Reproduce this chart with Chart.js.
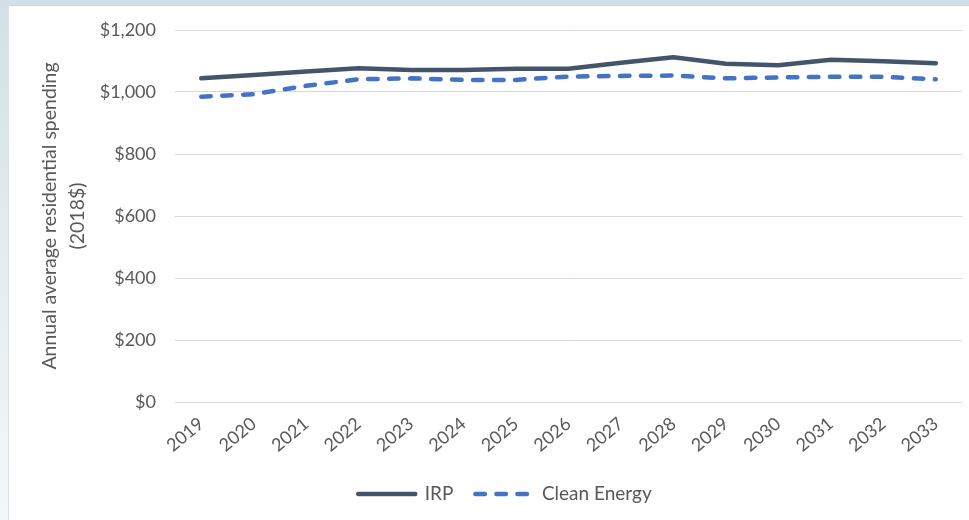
<!DOCTYPE html>
<html>
<head>
<meta charset="utf-8">
<script src="https://cdn.jsdelivr.net/npm/chart.js@4/dist/chart.umd.min.js"></script>
<style>
  html, body { margin: 0; padding: 0; width: 969px; height: 520px; overflow: hidden; }
  body { background: linear-gradient(to bottom, #d2e0e5 0%, #e4edf0 50%, #f4f7f8 100%); position: relative; }
  #card { position: absolute; left: 8px; top: 5px; width: 980px; height: 540px; background: #ffffff;
          border-top: 1px solid #cdd5d8; border-left: 1px solid #dde4e6; }
  #c { position: absolute; left: 0; top: 0; }
</style>
</head>
<body>
<div id="card"></div>
<canvas id="c" width="969" height="520"></canvas>
<script>
const years = ['2019','2020','2021','2022','2023','2024','2025','2026','2027','2028','2029','2030','2031','2032','2033'];
const irp = [1044, 1055, 1066, 1077, 1071, 1071, 1075, 1075, 1094, 1112, 1091, 1086, 1104, 1099, 1093];
const cleanEnergy = [985, 993, 1020, 1041, 1044, 1039, 1039, 1050, 1052, 1053, 1044, 1047, 1049, 1049, 1041];
const yTitle = ['Annual average residential spending', '(2018$)'];

const FONT = 'Lato, "Open Sans", sans-serif';
const GREY = '#595959';

new Chart(document.getElementById('c'), {
  type: 'line',
  data: {
    labels: years,
    datasets: [
      { label: 'IRP', data: irp, borderColor: '#44546a', backgroundColor: '#44546a',
        borderWidth: 4.5, borderCapStyle: 'round', borderJoinStyle: 'round',
        pointRadius: 0, tension: 0, fill: false },
      { label: 'Clean Energy', data: cleanEnergy, borderColor: '#4472c4', backgroundColor: '#4472c4',
        borderWidth: 4.5, borderDash: [9.5, 11.5], borderCapStyle: 'round', borderJoinStyle: 'round',
        pointRadius: 0, tension: 0, fill: false }
    ]
  },
  options: {
    responsive: false,
    animation: false,
    layout: { padding: { left: 48, right: 7, top: 30, bottom: 6.5 } },
    plugins: {
      tooltip: { enabled: false },
      legend: {
        position: 'bottom',
        labels: {
          usePointStyle: true, pointStyle: 'line', pointStyleWidth: 57,
          color: GREY, padding: 22,
          font: { family: FONT, size: 19 },
          generateLabels: (chart) => {
            const items = Chart.defaults.plugins.legend.labels.generateLabels(chart);
            items.forEach((it) => {
              const ds = chart.data.datasets[it.datasetIndex];
              it.lineDash = ds.borderDash || [];
              it.lineCap = ds.borderCapStyle;
              it.lineWidth = ds.borderWidth;
              it.strokeStyle = ds.borderColor;
            });
            return items;
          }
        }
      }
    },
    scales: {
      x: {
        offset: true,
        grid: { display: false, drawTicks: false },
        border: { display: false },
        ticks: { color: GREY, font: { family: FONT, size: 18 }, minRotation: 40, maxRotation: 40,
                 autoSkip: false, padding: 11 },
        afterFit: (s) => { s.height = 60.5; }
      },
      y: {
        min: 0, max: 1200,
        grid: { color: '#d9d9d9', lineWidth: 1, drawTicks: false },
        border: { display: false },
        ticks: { stepSize: 200, color: GREY, padding: 19, font: { family: FONT, size: 18 },
                 callback: (v) => '$' + v.toLocaleString('en-US') },
        title: { display: true, text: yTitle, color: GREY, padding: { top: -11.6, bottom: 0 },
                 font: { family: FONT, size: 19.5, lineHeight: 1.4 } },
        afterFit: (s) => { s.width = 127; }
      }
    }
  }
});
</script>
</body>
</html>
